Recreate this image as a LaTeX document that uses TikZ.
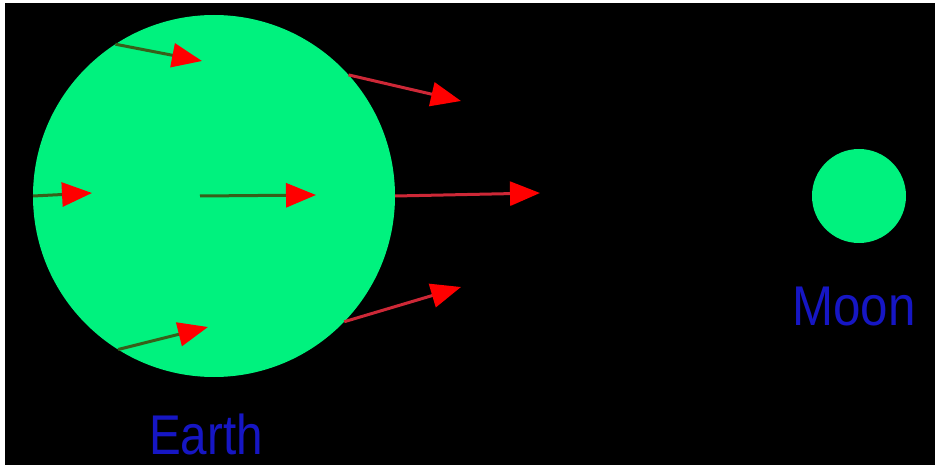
\documentclass[tikz,border=0pt]{standalone}
\usepackage{fontspec}
\setmainfont{Liberation Sans}
\usetikzlibrary{arrows.meta}
\definecolor{earthgreen}{RGB}{0, 242, 126}
\definecolor{labelblue}{RGB}{22, 22, 196}
\definecolor{tidered}{RGB}{205, 40, 55}
\definecolor{insideline}{RGB}{55, 95, 25}

\begin{document}
\begin{tikzpicture}[x=1pt, y=-1pt,
  body/.style={circle, fill=earthgreen, inner sep=0pt, outer sep=0pt},
  bodylabel/.style={text=labelblue, font=\fontsize{56}{56}\selectfont, inner sep=0pt},
  tide/.style={line width=3pt, draw=tidered, -{Triangle[length=30pt, width=24pt, color=red, fill=red]}},
  tidein/.style={tide, draw=insideline}]
  % Background
  \fill[white] (0,0) rectangle (935,468);
  \fill[black] (5,3) rectangle (935,465);

  % Earth and Moon
  \node[body, minimum size=362pt] (earth) at (214,196) {};
  \node[body, minimum size=94pt] (moon) at (859,196) {};

  \node[bodylabel] (earthlabel) at (206,434) {\scalebox{0.85}[1]{Earth}};
  \node[bodylabel] (moonlabel) at (854,307) {\scalebox{0.88}[1]{Moon}};

  % Arrow ends
  \coordinate (tl) at (202,61);
  \coordinate (ml) at (92,193);
  \coordinate (mc) at (316,195);
  \coordinate (bl) at (208,327);
  \coordinate (tr) at (461,101);
  \coordinate (mr) at (540,193);
  \coordinate (br) at (461,287);

  % Tidal arrows
  \draw[tidein] (earth.123) -- (tl);
  \draw[tidein] (earth.west) -- (ml);
  \draw[tidein] (earth.center) ++(-14,0) -- (mc);
  \draw[tidein] (earth.238) -- (bl);
  \draw[tide] (earth.42) -- (tr);
  \draw[tide] (earth.east) -- (mr);
  \draw[tide] (earth.-44) -- (br);
\end{tikzpicture}
\end{document}
